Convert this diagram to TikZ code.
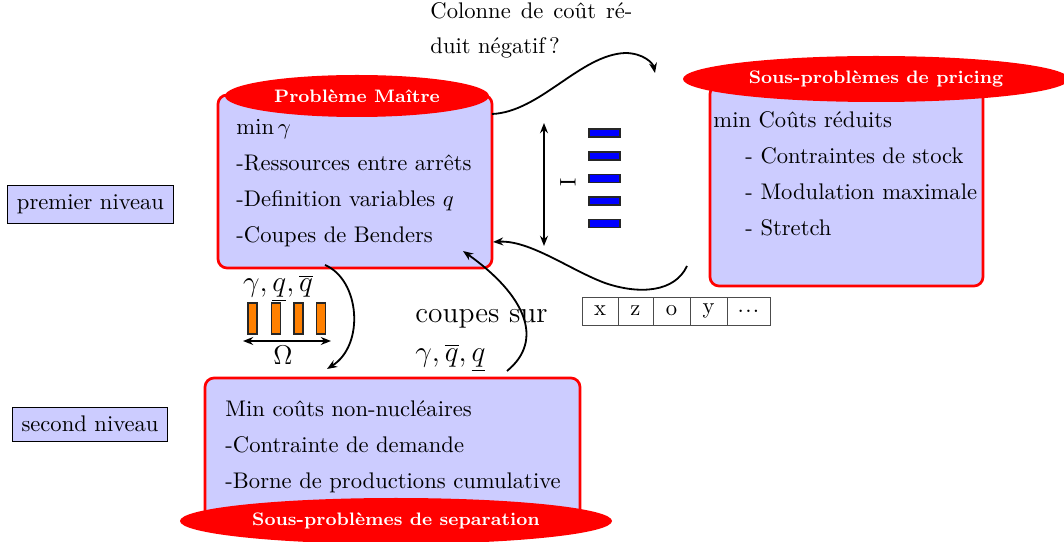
\RequirePackage{fix-cm}
\documentclass[tikz,border=0pt]{standalone}
\usetikzlibrary{shapes.geometric,arrows.meta}
\begin{document}
\begin{tikzpicture}[x=0.4425pt,y=-0.4425pt,
  bigbox/.style={draw=red, very thick, fill=blue!20, rounded corners=4pt, inner sep=0pt},
  titlebox/.style={ellipse, fill=red, inner sep=0pt, text=white, font=\footnotesize\bfseries},
  txtline/.style={anchor=base west, inner sep=0pt},
  lvl/.style={draw=black, fill=blue!20, inner sep=4pt},
  conn/.style={-{Stealth[length=4.5pt,width=3.5pt]}, thick},
  dbl/.style={{Stealth[length=4.5pt,width=3.5pt]}-{Stealth[length=4.5pt,width=3.5pt]}, thick},
  bbar/.style={draw=black!85, line width=0.7pt, fill=blue, minimum width=31*0.4425pt, minimum height=8*0.4425pt, inner sep=0pt},
  obar/.style={draw=black!85, line width=0.7pt, fill=orange, minimum width=9*0.4425pt, minimum height=31*0.4425pt, inner sep=0pt},
  cell/.style={draw=black!70, minimum height=28*0.4425pt, inner sep=0pt},
  big/.style={font=\fontsize{13}{16}\selectfont}
]
\useasboundingbox (0,0) rectangle (1064,542);

% Master problem
\node[bigbox, minimum width=274*0.4425pt, minimum height=173*0.4425pt] (master) at (355,181.5) {};
\node[titlebox, minimum width=264*0.4425pt, minimum height=42*0.4425pt] (mtitle) at (357,96) {Problème Maître};
\node[txtline] (m1) at (236,135) {$\min\gamma$};
\node[txtline] (m2) at (236,171) {-Ressources entre arrêts};
\node[txtline] (m3) at (236,207) {-Definition variables $q$};
\node[txtline] (m4) at (236,243) {-Coupes de Benders};

% Pricing
\node[bigbox, minimum width=273*0.4425pt, minimum height=201*0.4425pt] (pricing) at (846.5,185.5) {};
\node[titlebox, minimum width=386*0.4425pt, minimum height=46*0.4425pt] (ptitle) at (876,79) {Sous-problèmes de pricing};
\node[txtline] (p1) at (713,127.5) {min Coûts réduits};
\node[txtline] (p2) at (745,164) {- Contraintes de stock};
\node[txtline] (p3) at (745,200) {- Modulation maximale};
\node[txtline] (p4) at (745,236) {- Stretch};

% Separation
\node[bigbox, minimum width=375*0.4425pt, minimum height=142*0.4425pt] (sep) at (392.5,449) {};
\node[titlebox, minimum width=432*0.4425pt, minimum height=46*0.4425pt] (stitle) at (396,521) {Sous-problèmes de separation};
\node[txtline] (s1) at (225,416.5) {Min coûts non-nucléaires};
\node[txtline] (s2) at (225,452.5) {-Contrainte de demande};
\node[txtline] (s3) at (225,488.5) {-Borne de productions cumulative};

% Level labels
\node[lvl] (lvl1) at (90.5,204.5) {premier niveau};
\node[lvl] (lvl2) at (90,424) {second niveau};

% Question text
\node[txtline] (q1) at (430,19) {\makebox[89.4pt][s]{Colonne de coût ré-}};
\node[txtline] (q2) at (430,54) {duit négatif\,?};

% Cells
\node[cell, minimum width=36*0.4425pt] (c1) at (600,311) {x};
\node[cell, minimum width=35*0.4425pt] (c2) at (635.5,311) {z};
\node[cell, minimum width=37*0.4425pt] (c3) at (671.5,311) {o};
\node[cell, minimum width=37*0.4425pt] (c4) at (708.5,311) {y};
\node[cell, minimum width=43*0.4425pt] (c5) at (748.5,311) {.\kern0.6pt.\kern0.6pt.};

% Vertical double arrow, I label and blue bars
\coordinate (va) at (544,123);
\coordinate (vb) at (544,246);
\draw[dbl] (va) -- (vb);
\node[rotate=90, inner sep=0pt] (ilab) at (568,182) {I};
\node[bbar] (b1) at (604.5,133) {};
\node[bbar] (b2) at (604.5,156) {};
\node[bbar] (b3) at (604.5,178.5) {};
\node[bbar] (b4) at (604.5,201) {};
\node[bbar] (b5) at (604.5,223.5) {};

% Omega group
\node[big, anchor=base, inner sep=0pt] (glab) at (278,292) {$\gamma,\underline{q},\overline{q}$};
\node[obar] (o1) at (252.5,318.5) {};
\node[obar] (o2) at (276,318.5) {};
\node[obar] (o3) at (298.5,318.5) {};
\node[obar] (o4) at (321,318.5) {};
\coordinate (ha) at (243,341);
\coordinate (hb) at (331,341);
\draw[dbl] (ha) -- (hb);
\node[font=\large, anchor=base, inner sep=0pt] (omega) at (283,365) {$\Omega$};

% coupes sur
\node[big, txtline] (cs1) at (415,322.5) {coupes sur};
\node[big, txtline] (cs2) at (415,361.5) {$\gamma,\overline{q},\underline{q}$};

% Connectors
\coordinate (a1s) at (492,114);
\coordinate (a1e) at (655,73);
\draw[conn] (a1s) .. controls (540,112) and (580,55) .. (625,53) .. controls (643,53) and (653,63) .. (a1e);

\coordinate (a2s) at (687,266);
\coordinate (a2e) at (493,242);
\draw[conn] (a2s) .. controls (675,292) and (640,295) .. (605,283) .. controls (570,270) and (530,240) .. (a2e);

\coordinate (a3s) at (325,265);
\coordinate (a3e) at (327,369);
\draw[conn] (a3s) .. controls (360,280) and (365,345) .. (a3e);

\coordinate (a4s) at (507,371);
\coordinate (a4e) at (463,251);
\draw[conn] (a4s) .. controls (545,340) and (525,295) .. (a4e);
\end{tikzpicture}
\end{document}
